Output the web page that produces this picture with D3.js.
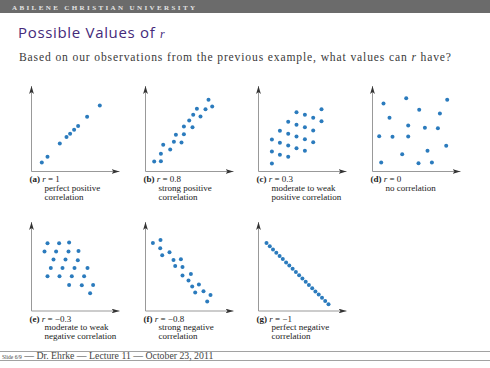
<!DOCTYPE html>
<html><head><meta charset="utf-8">
<script src="https://cdn.jsdelivr.net/npm/d3@7"></script>
<style>body{margin:0;background:#fff}svg{display:block}</style>
</head><body><svg id="c" width="490" height="368"></svg>
<script>
// ---- data (units ≈ plot pixels from each panel origin) ----
const panelIds = ["a","b","c","d","e","f","g"];
const panelR = ["1","0.8","0.3","0","\u22120.3","\u22120.8","\u22121"];
const panelDesc = [
  ["perfect positive","correlation"],
  ["strong positive","correlation"],
  ["moderate to weak","positive correlation"],
  ["no correlation"],
  ["moderate to weak","negative correlation"],
  ["strong negative","correlation"],
  ["perfect negative","correlation"]
];
const ptsA = [[10.3,9],[16,14.7],[28.3,28],[35,34.4],[38.6,37.7],[42.6,41.7],[46.6,45.4],[55.6,54.7],[68.3,66]];
const ptsB = [[8.7,10],[15.4,10.3],[15.4,17.7],[17.7,26.7],[24.7,22],[28.4,29.7],[30.4,36.7],[36,29],[38.4,37.3],[38.4,45],[43.7,51],[47,44.3],[47.7,56.7],[51.4,62.7],[55,55],[60,62.3],[63,71.7],[66.7,65]];
const ptsC = [[13.4,8],[13.4,20],[13.4,32],[21.4,16.7],[21.4,28.7],[21.4,40.7],[29.7,14.7],[29.7,26],[29.7,37.7],[29.7,49.7],[38,23.3],[38,35],[38,46.7],[38,59.3],[46.4,20.7],[46.4,32.3],[46.4,44.3],[46.4,56.7],[54.7,29.3],[54.7,41],[54.7,53.7],[63,50.3],[63,62.3]];
const ptsD = [[11,68],[33.7,73.3],[74.7,71.7],[46.7,61.7],[67.4,58],[17,53.7],[35.7,46],[52.4,43.7],[65.4,43.3],[6.7,35.3],[20,34.7],[35.7,35],[73.7,25.7],[55,20.7],[29.7,17.3],[8.7,9],[46,8.3],[59.4,9]];
const ptsE = [[16,67.7],[27.6,67.7],[37.6,68.4],[13,59.4],[24.6,59.4],[37,59.4],[47,60],[22,51.4],[34,51.4],[46.3,50.7],[19.3,43],[31,43],[43,43],[56,43],[16,34.7],[28,34.7],[40.3,34.7],[52.6,34.7],[37.6,26],[50.3,25.7],[61.6,26],[58.6,17.7]];
const ptsF = [[7.4,68],[15,71],[14.7,62.7],[16.7,55.7],[24,58.7],[28,51],[35.4,51.7],[29.7,45],[37,44],[37,35.4],[45.4,37],[43,30.4],[46.7,24.4],[53.4,26.4],[49.7,18.4],[58,19.7],[65,16],[61.7,9.4]];
const ptsG = [[8,68],[11.3,64.8],[14.5,61.5],[17.8,58.3],[21.1,55.1],[24.3,51.9],[27.6,48.6],[30.8,45.4],[34.1,42.2],[37.4,39],[40.6,35.7],[43.9,32.5],[47.2,29.3],[50.4,26.1],[53.7,22.8],[56.9,19.6],[60.2,16.4],[63.5,13.2],[66.7,9.9],[70,6.7]];
const panelPts = [ptsA,ptsB,ptsC,ptsD,ptsE,ptsF,ptsG];

// ---- layout ----
const colX = [31.5,145.5,258.5,372.5];
const rowY = [171.5,311];
const rowTop = [86,222];
const axisW = 88;

const svg = d3.select("#c");

function fitSize(sel, target){
  const w = sel.node().getBBox().width;
  const fs = parseFloat(sel.attr("font-size"));
  sel.attr("font-size", fs*target/w);
}
function fitSpacing(sel, target, n){
  const w = sel.node().getBBox().width;
  sel.attr("letter-spacing", (target-w)/(n-1));
}

// header bar
svg.append("rect").attr("x",0).attr("y",0).attr("width",490).attr("height",13).attr("fill","#6b6b6b");
const hdrTxt = "ABILENE CHRISTIAN UNIVERSITY";
const hdr = svg.append("text").attr("x",12).attr("y",9.5)
  .attr("font-family","Liberation Serif, serif").attr("font-size",7).attr("font-weight","bold")
  .attr("fill","#e4e4e4").text(hdrTxt);
fitSpacing(hdr,183,hdrTxt.length);

// title
const ttl = svg.append("text").attr("x",18).attr("y",37.5)
  .attr("font-family","Open Sans, sans-serif").attr("font-size",15).attr("fill","#452a7a");
ttl.append("tspan").text("Possible Values of ");
ttl.append("tspan").attr("font-family","Liberation Serif, serif").attr("font-style","italic").attr("font-size",12).text("r");
fitSpacing(ttl,147,20);

// subtitle
const subTxt = "Based on our observations from the previous example, what values can r have?";
const sub = svg.append("text").attr("x",19).attr("y",61)
  .attr("font-family","Liberation Serif, serif").attr("font-size",11.6).attr("fill","#3a3a3a");
sub.append("tspan").text("Based on our observations from the previous example, what values can ");
sub.append("tspan").attr("font-style","italic").text("r");
sub.append("tspan").text(" have?");
fitSpacing(sub,432,subTxt.length);

// arrow marker
const defs = svg.append("defs");
defs.append("marker").attr("id","arr").attr("viewBox","0 0 10 6").attr("refX",10).attr("refY",3)
  .attr("markerUnits","userSpaceOnUse").attr("markerWidth",8).attr("markerHeight",4.8).attr("orient","auto")
  .append("path").attr("d","M0,0L10,3L0,6L2.5,3Z").attr("fill","#333");

panelIds.forEach((id,i)=>{
  const row = i<4?0:1, col = i<4?i:i-4;
  const ox = colX[col], oy = rowY[row];
  const x = d3.scaleLinear().domain([0,88]).range([ox,ox+axisW]);
  const y = d3.scaleLinear().domain([0,85]).range([oy,oy-85]);
  const g = svg.append("g");
  g.append("line").attr("x1",ox).attr("y1",oy).attr("x2",ox+axisW).attr("y2",oy)
    .attr("stroke","#999").attr("stroke-width",1).attr("marker-end","url(#arr)");
  g.append("line").attr("x1",ox).attr("y1",oy).attr("x2",ox).attr("y2",rowTop[row])
    .attr("stroke","#999").attr("stroke-width",1).attr("marker-end","url(#arr)");
  g.selectAll("circle").data(panelPts[i]).join("circle")
    .attr("cx",d=>x(d[0])).attr("cy",d=>y(d[1])).attr("r",2).attr("fill","#2b7bbd");
  const lx = ox-2, ly = oy+10.5;
  const t = g.append("text").attr("x",lx).attr("y",ly)
    .attr("font-family","Liberation Serif, serif").attr("font-size",9).attr("fill","#222");
  t.append("tspan").attr("font-weight","bold").text("("+id+")");
  t.append("tspan").text(" ");
  t.append("tspan").attr("font-style","italic").text("r");
  t.append("tspan").text(" = "+panelR[i]);
  panelDesc[i].forEach((s,k)=>{
    g.append("text").attr("x",lx+15).attr("y",ly+8.8*(k+1))
      .attr("font-family","Liberation Serif, serif").attr("font-size",9).attr("fill","#222").text(s);
  });
});

// footer
svg.append("line").attr("x1",0).attr("x2",490).attr("y1",351.5).attr("y2",351.5).attr("stroke","#8a8a8a").attr("stroke-width",0.8);
svg.append("line").attr("x1",0).attr("x2",490).attr("y1",360.5).attr("y2",360.5).attr("stroke","#8a8a8a").attr("stroke-width",0.8);
const ft = svg.append("text").attr("x",2).attr("y",358.5)
  .attr("font-family","Liberation Serif, serif").attr("font-size",7.5).attr("fill","#444");
ft.append("tspan").attr("font-size",5.5).text("Slide 6/9");
ft.append("tspan").text(" \u2014 Dr. Ehrke \u2014 Lecture 11 \u2014 October 23, 2011");
fitSize(ft,218);
</script></body></html>
